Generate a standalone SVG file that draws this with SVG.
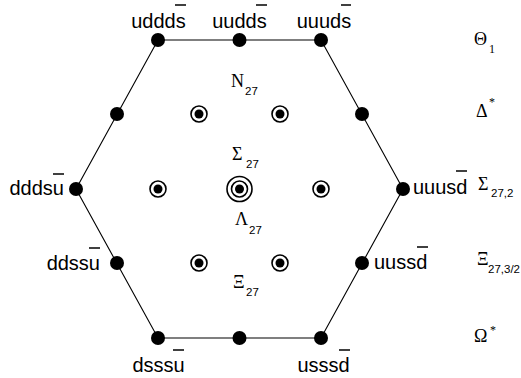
<svg xmlns="http://www.w3.org/2000/svg" width="521" height="378" viewBox="0 0 521 378">
<style>
.edge{stroke:#000;stroke-width:1.1;fill:none}
.dot{fill:#000}
.ring{fill:none;stroke:#000;stroke-width:1.6}
.q{font-family:"Liberation Sans",Arial,sans-serif;font-size:20px;fill:#000}
.bar{stroke:#000;stroke-width:1.5}
.g{font-family:"Liberation Serif","Times New Roman",serif;font-size:18px;fill:#000}
.s{font-family:"Liberation Sans",Arial,sans-serif;font-size:11.5px;fill:#000}
.ss{font-family:"Liberation Serif","Times New Roman",serif;font-size:12px;fill:#000}
</style>
<rect width="521" height="378" fill="#fff"/>
<g id="connectors">
<polyline class="edge" points="158,40 321,40 403,189 321,338 158,338 76,189 158,40"/>
</g>
<g id="n-uddds"><circle class="dot" cx="158" cy="40" r="7"/><text class="q" x="158.5" y="28" text-anchor="middle">uddds</text><line class="bar" x1="175" y1="5" x2="186" y2="5"/></g>
<g id="n-uudds"><circle class="dot" cx="239.5" cy="40" r="7"/><text class="q" x="239.5" y="28" text-anchor="middle">uudds</text><line class="bar" x1="256" y1="5" x2="267" y2="5"/></g>
<g id="n-uuuds"><circle class="dot" cx="321" cy="40" r="7"/><text class="q" x="324" y="28" text-anchor="middle">uuuds</text><line class="bar" x1="341" y1="5" x2="351" y2="5"/></g>
<g id="n-l2"><circle class="dot" cx="117" cy="114" r="7"/></g>
<g id="n-r2"><circle class="dot" cx="362" cy="114" r="7"/></g>
<g id="n-dddsu"><circle class="dot" cx="76" cy="189" r="7"/><text class="q" x="64" y="195" text-anchor="end">dddsu</text><line class="bar" x1="53" y1="174" x2="64" y2="174"/></g>
<g id="n-uuusd"><circle class="dot" cx="403" cy="189" r="7"/><text class="q" x="413" y="194">uuusd</text><line class="bar" x1="456" y1="171" x2="467" y2="171"/></g>
<g id="n-ddssu"><circle class="dot" cx="117" cy="263" r="7"/><text class="q" x="100" y="270" text-anchor="end">ddssu</text><line class="bar" x1="89" y1="248" x2="100" y2="248"/></g>
<g id="n-uussd"><circle class="dot" cx="362" cy="263" r="7"/><text class="q" x="374" y="269">uussd</text><line class="bar" x1="417" y1="247" x2="428" y2="247"/></g>
<g id="n-dsssu"><circle class="dot" cx="158" cy="338" r="7"/><text class="q" x="158.5" y="372" text-anchor="middle">dsssu</text><line class="bar" x1="173" y1="350" x2="184" y2="350"/></g>
<g id="n-b2"><circle class="dot" cx="239.5" cy="338" r="7"/></g>
<g id="n-usssd"><circle class="dot" cx="321" cy="338" r="7"/><text class="q" x="323.5" y="372" text-anchor="middle">usssd</text><line class="bar" x1="339" y1="350" x2="350" y2="350"/></g>
<g id="i1"><circle class="ring" cx="199" cy="114" r="8"/><circle class="dot" cx="199" cy="114" r="4.5"/></g>
<g id="i2"><circle class="ring" cx="280" cy="114" r="8"/><circle class="dot" cx="280" cy="114" r="4.5"/></g>
<g id="i3"><circle class="ring" cx="158" cy="189" r="8"/><circle class="dot" cx="158" cy="189" r="4.5"/></g>
<g id="i4"><circle class="ring" cx="321" cy="189" r="8"/><circle class="dot" cx="321" cy="189" r="4.5"/></g>
<g id="i5"><circle class="ring" cx="199" cy="263" r="8"/><circle class="dot" cx="199" cy="263" r="4.5"/></g>
<g id="i6"><circle class="ring" cx="280" cy="263" r="8"/><circle class="dot" cx="280" cy="263" r="4.5"/></g>
<g id="center"><circle class="ring" cx="239.5" cy="189" r="12.5"/><circle class="ring" cx="239.5" cy="189" r="8"/><circle class="dot" cx="239.5" cy="189" r="4.5"/></g>
<g id="labels">
<text class="g" x="231" y="87">N</text><text class="s" x="245" y="95">27</text>
<text class="g" x="232" y="160">Σ</text><text class="s" x="246" y="168">27</text>
<text class="g" x="235" y="225">Λ</text><text class="s" x="249" y="234">27</text>
<text class="g" x="233" y="288">Ξ</text><text class="s" x="246" y="296">27</text>
<text class="g" x="474" y="45">Θ</text><text class="ss" x="489" y="53">1</text>
<text class="g" x="476" y="117">Δ</text><text class="ss" x="489" y="106">*</text>
<text class="g" x="478" y="190">Σ</text><text class="s" x="491" y="197">27,2</text>
<text class="g" x="477" y="265">Ξ</text><text class="s" x="488" y="273">27,3/2</text>
<text class="g" x="474" y="342">Ω</text><text class="ss" x="490" y="334">*</text>
</g>
</svg>
